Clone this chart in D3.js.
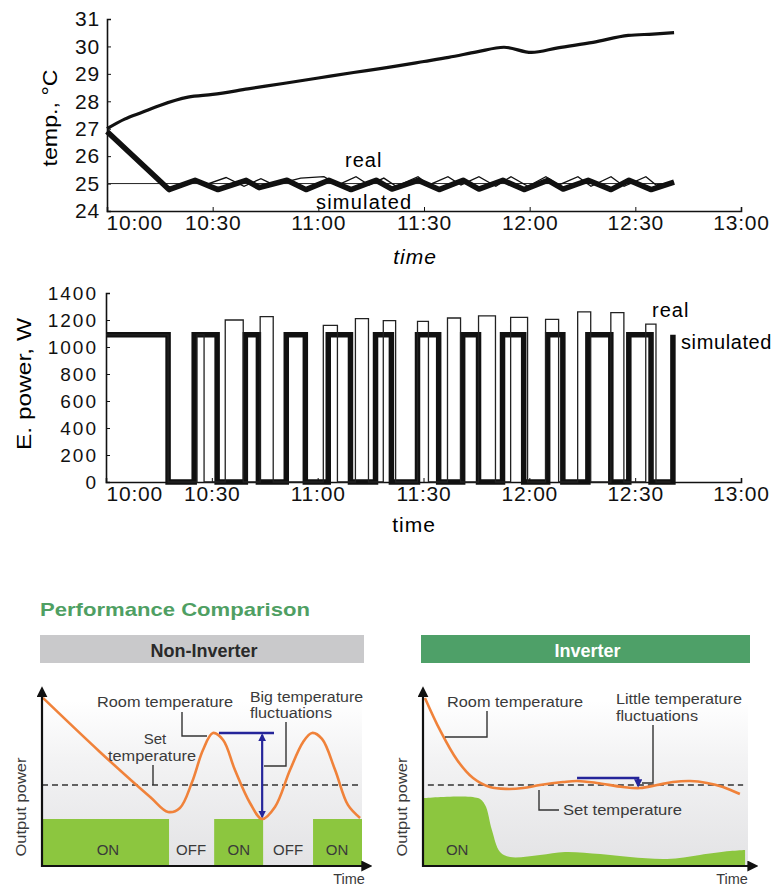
<!DOCTYPE html>
<html>
<head>
<meta charset="utf-8">
<script src="https://cdn.jsdelivr.net/npm/d3@7"></script>
<style>
  body { margin: 0; background: #fff; }
  svg { display: block; font-family: "Liberation Sans", Arial, sans-serif; }
  .axis path, .axis line { stroke: #111; }
  .axis text { fill: #111; }
</style>
</head>
<body>
<script>
const W = 781, H = 888;

// ---- data: measured charts ----
const timeTicks = [0, 30, 60, 90, 120, 150, 180];
const timeLabels = ["10:00", "10:30", "11:00", "11:30", "12:00", "12:30", "13:00"];
const tempTicks = [24, 25, 26, 27, 28, 29, 30, 31];
const powerTicks = [0, 200, 400, 600, 800, 1000, 1200, 1400];
const setPoint = 25;

// [minutes after 10:00, temp C]
const tempNoControl = [[0, 27.0], [5, 27.35], [10, 27.6], [15, 27.85], [23, 28.15], [30, 28.25],
  [40, 28.45], [50, 28.65], [60, 28.85], [70, 29.05], [78, 29.2], [90, 29.45], [97, 29.6],
  [105, 29.8], [112.7, 29.97], [120.5, 29.78], [128, 29.95], [138, 30.15], [148, 30.4],
  [155, 30.45], [161, 30.5]];
const tempSimulated = [[0, 26.9], [17.6, 24.78], [25, 25.12], [31.5, 24.78], [39.5, 25.12],
  [43.2, 24.85], [51.1, 25.12], [56.5, 24.78], [63, 25.12], [69.3, 24.78], [76.4, 25.12],
  [80.9, 24.8], [88.3, 25.12], [94.3, 24.78], [101.1, 25.12], [105.6, 24.8], [112.4, 25.12],
  [118.4, 24.78], [125.2, 25.12], [129.5, 24.8], [136.6, 25.12], [143.1, 24.78], [148.2, 25.12],
  [154.5, 24.78], [161, 25.05]];
const tempReal = [[0, 26.9], [17.6, 24.85], [25.8, 25.1], [27.8, 24.95], [33.8, 25.22],
  [38.9, 24.9], [43.7, 25.18], [47.4, 24.95], [55, 25.2], [61.6, 25.25], [65.6, 24.95],
  [70.7, 25.25], [74.4, 24.95], [78.6, 25.2], [82.1, 24.9], [88.3, 25.25], [91.4, 24.95],
  [96.8, 25.25], [100.5, 24.95], [105.6, 25.25], [110.4, 24.9], [114.7, 25.25], [119.5, 24.9],
  [124.6, 25.25], [128.3, 24.95], [133.7, 25.25], [137.4, 24.9], [143.1, 25.25], [146.8, 24.9],
  [153, 25.25], [155.9, 24.95], [161, 25.05]];

// [on, off] minutes, simulated compressor power level
const simPulses = [[0, 17.6], [25, 31.5], [39.5, 43.2], [51.1, 56.5], [63, 69.3], [76.4, 80.9],
  [88.3, 94.3], [101.1, 105.6], [112.4, 118.4], [125.2, 129.5], [136.6, 143.1], [148.2, 154.5]];
const simLevel = 1090;
const simLastRise = 160.7;
// [on, off, W] measured
const realPulses = [[0, 17.6, 1090], [25.8, 27.8, 1090], [33.8, 38.9, 1200], [43.7, 47.4, 1225],
  [61.6, 65.6, 1160], [70.7, 74.4, 1210], [78.6, 82.1, 1195], [88.3, 91.4, 1190],
  [96.8, 100.5, 1215], [105.6, 110.4, 1230], [114.7, 119.5, 1220], [124.6, 128.3, 1205],
  [133.7, 137.4, 1260], [143.1, 146.8, 1255], [153, 155.9, 1170]];
const realEnd = 160;

// ---- data: comparison diagram (time 0-100, level 0-100) ----
const nonInvRoom = [[0.3, 95.5], [18.1, 64.8], [33.8, 39.2], [39.4, 30.7], [43.1, 33.0],
  [46.9, 47.7], [50.3, 65.9], [53.4, 75.6], [56.6, 71.6], [60.3, 54.5], [65.0, 35.8],
  [68.8, 26.7], [72.8, 33.5], [77.5, 54.5], [81.6, 70.5], [84.4, 75.6], [87.5, 72.2],
  [91.6, 54.5], [95.6, 34.7], [99.4, 27.3]];
const nonInvOn = [[0, 39.7], [53.8, 69.1], [84.7, 100]];
const nonInvOnLevel = 26.7;
const nonInvStates = [["ON", 20.6], ["OFF", 46.6], ["ON", 61.5], ["OFF", 76.9], ["ON", 92.2]];
const invRoom = [[0.6, 95.5], [5.2, 77.3], [10.5, 60.2], [15.4, 50.0], [20.6, 44.9], [25.8, 43.8],
  [30.8, 44.3], [36.0, 46.0], [43.1, 47.7], [47.4, 48.3], [53.5, 47.2], [61.5, 44.9],
  [66.8, 44.3], [72.0, 46.0], [76.9, 47.7], [82.2, 48.3], [87.4, 47.2], [92.3, 44.9], [97.5, 40.9]];
const invPower = [[0, 38.6], [16.9, 38.6], [19.1, 34.7], [21.2, 20.5], [23.7, 8.0], [26.8, 5.1],
  [36.0, 6.3], [43.7, 8.0], [54.5, 6.8], [63.7, 5.1], [75.1, 4.0], [85.2, 6.3], [94.5, 8.5],
  [99.1, 9.1]];
const setLevel = 46;

const svg = d3.select("body").append("svg").attr("width", W).attr("height", H);
const defs = svg.append("defs");

// ================= temperature chart =================
const xT = d3.scaleLinear().domain([0, 180]).range([107, 741]);
const yT = d3.scaleLinear().domain([24, 31]).range([211, 19]);
const lineT = d3.line().x((d) => xT(d[0])).y((d) => yT(d[1]));

const gTy = svg.append("g").attr("class", "axis").attr("transform", `translate(${xT(0)},0)`)
  .call(d3.axisLeft(yT).tickValues(tempTicks).tickSize(-4).tickPadding(7).tickFormat(d3.format("d")));
const gTx = svg.append("g").attr("class", "axis").attr("transform", `translate(0,${yT(24)})`)
  .call(d3.axisBottom(xT).tickValues(timeTicks).tickSize(-4).tickPadding(4)
    .tickFormat((d, i) => timeLabels[i]));
[gTy, gTx].forEach((g) => {
  g.select(".domain").attr("stroke-width", 1.6);
  g.selectAll("text").attr("font-size", 21).attr("letter-spacing", 0.8);
});
gTx.selectAll(".tick").filter((d) => d === 0).select("line").remove();
gTx.selectAll(".tick").filter((d) => d === 0).select("text").attr("text-anchor", "start").attr("x", -1);

svg.append("line")
  .attr("x1", xT(0)).attr("x2", xT(161)).attr("y1", yT(setPoint)).attr("y2", yT(setPoint))
  .attr("stroke", "#222").attr("stroke-width", 1);
svg.append("path").datum(tempNoControl).attr("d", lineT.curve(d3.curveMonotoneX))
  .attr("fill", "none").attr("stroke", "#111").attr("stroke-width", 3.2);
lineT.curve(d3.curveLinear);
svg.append("path").datum(tempSimulated).attr("d", lineT)
  .attr("fill", "none").attr("stroke", "#111").attr("stroke-width", 5.5).attr("stroke-linejoin", "round");
svg.append("path").datum(tempReal).attr("d", lineT)
  .attr("fill", "none").attr("stroke", "#111").attr("stroke-width", 1.3);

svg.append("text").attr("x", 345).attr("y", 167).attr("font-size", 20).attr("letter-spacing", 1).text("real");
svg.append("text").attr("x", 316).attr("y", 209).attr("font-size", 20).attr("letter-spacing", 1.2).text("simulated");
svg.append("text").attr("x", 415).attr("y", 264).attr("text-anchor", "middle")
  .attr("font-size", 21).attr("font-style", "italic").attr("letter-spacing", 1).text("time");
svg.append("text").attr("transform", "translate(57,118) rotate(-90)").attr("text-anchor", "middle")
  .attr("font-size", 21).attr("textLength", 97).attr("lengthAdjust", "spacingAndGlyphs").text("temp., °C");

// ================= power chart =================
const xP = d3.scaleLinear().domain([0, 180]).range([106, 741]);
const yP = d3.scaleLinear().domain([0, 1400]).range([482, 293]);
const lineP = d3.line().x((d) => xP(d[0])).y((d) => yP(d[1]));

const gPy = svg.append("g").attr("class", "axis").attr("transform", `translate(${xP(0)},0)`)
  .call(d3.axisLeft(yP).tickValues(powerTicks).tickSize(-4).tickPadding(8).tickFormat(d3.format("d")));
const gPx = svg.append("g").attr("class", "axis").attr("transform", `translate(0,${yP(0)})`)
  .call(d3.axisBottom(xP).tickValues(timeTicks).tickSize(-4).tickPadding(4)
    .tickFormat((d, i) => timeLabels[i]));
gPy.select(".domain").attr("stroke-width", 1.6);
gPx.select(".domain").attr("stroke-width", 1.6);
gPy.selectAll("text").attr("font-size", 19).attr("letter-spacing", 2);
gPx.selectAll("text").attr("font-size", 21).attr("letter-spacing", 0.8);
gPx.selectAll(".tick").filter((d) => d === 0).select("line").remove();
gPx.selectAll(".tick").filter((d) => d === 0).select("text").attr("text-anchor", "start").attr("x", 0);

const realPts = [];
realPulses.forEach(([s, e, l]) => {
  if (s > 0) realPts.push([s, 0]);
  realPts.push([s, l], [e, l], [e, 0]);
});
realPts.push([realEnd, 0]);
const simPts = [];
simPulses.forEach(([s, e]) => {
  if (s > 0) simPts.push([s, 0]);
  simPts.push([s, simLevel], [e, simLevel], [e, 0]);
});
simPts.push([simLastRise, 0], [simLastRise, simLevel]);

svg.append("path").datum(simPts).attr("d", lineP)
  .attr("fill", "none").attr("stroke", "#111").attr("stroke-width", 5.5);
svg.append("path").datum(realPts).attr("d", lineP)
  .attr("fill", "none").attr("stroke", "#222").attr("stroke-width", 1.3);

svg.append("text").attr("x", 652).attr("y", 317).attr("font-size", 20).attr("letter-spacing", 1).text("real");
svg.append("text").attr("x", 681).attr("y", 349).attr("font-size", 20).attr("letter-spacing", 0.6).text("simulated");
svg.append("text").attr("x", 414).attr("y", 532).attr("text-anchor", "middle")
  .attr("font-size", 21).attr("letter-spacing", 1).text("time");
svg.append("text").attr("transform", "translate(31,384) rotate(-90)").attr("text-anchor", "middle")
  .attr("font-size", 20).attr("textLength", 132).attr("lengthAdjust", "spacingAndGlyphs").text("E. power, W");

// ================= comparison diagram =================
const green = "#8cc63f", orange = "#f0823a", navy = "#25259a", grayText = "#3a3a3a";

svg.append("text").attr("x", 40).attr("y", 616).attr("font-size", 18.5).attr("font-weight", "bold")
  .attr("fill", "#4f9f63").attr("textLength", 270).attr("lengthAdjust", "spacingAndGlyphs")
  .text("Performance Comparison");

const grad = defs.append("linearGradient").attr("id", "bg").attr("x1", 0).attr("x2", 0).attr("y1", 0).attr("y2", 1);
grad.append("stop").attr("offset", "0%").attr("stop-color", "#ffffff");
grad.append("stop").attr("offset", "35%").attr("stop-color", "#f3f3f4");
grad.append("stop").attr("offset", "100%").attr("stop-color", "#e3e3e5");

const arrow = defs.append("marker").attr("id", "axArrow").attr("viewBox", "0 0 10 10")
  .attr("refX", 5).attr("refY", 5).attr("markerWidth", 5).attr("markerHeight", 5).attr("orient", "auto");
arrow.append("path").attr("d", "M0,0L10,5L0,10Z").attr("fill", "#111");
const blueArrow = defs.append("marker").attr("id", "blueArrow").attr("viewBox", "0 0 10 10")
  .attr("refX", 8).attr("refY", 5).attr("markerWidth", 3.5).attr("markerHeight", 3.5).attr("orient", "auto-start-reverse");
blueArrow.append("path").attr("d", "M0,0L10,5L0,10Z").attr("fill", navy);

function panel(left, right, barColor, barText, barTextColor) {
  const x = d3.scaleLinear().domain([0, 100]).range([left, right]);
  const y = d3.scaleLinear().domain([0, 100]).range([866, 690]);
  const g = svg.append("g");
  g.append("rect").attr("x", left - 2).attr("y", 635).attr("width", right - left + 4).attr("height", 28)
    .attr("fill", barColor);
  g.append("text").attr("x", (left + right) / 2 + 2).attr("y", 657).attr("text-anchor", "middle")
    .attr("font-size", 18).attr("font-weight", "bold").attr("fill", barTextColor).text(barText);
  g.append("rect").attr("x", x(0)).attr("y", y(94)).attr("width", x(100) - x(0)).attr("height", y(0) - y(94))
    .attr("fill", "url(#bg)");
  return { x, y, g };
}

function axesAndTitles(p, left, tx, ty) {
  const { x, y, g } = p;
  g.append("line").attr("x1", x(0)).attr("x2", x(0)).attr("y1", y(0) + 1).attr("y2", y(99))
    .attr("stroke", "#111").attr("stroke-width", 2.2).attr("marker-end", "url(#axArrow)");
  g.append("line").attr("x1", x(0) - 1).attr("x2", x(101.5)).attr("y1", y(0)).attr("y2", y(0))
    .attr("stroke", "#111").attr("stroke-width", 2.2).attr("marker-end", "url(#axArrow)");
  g.append("text").attr("transform", `translate(${left},807) rotate(-90)`).attr("text-anchor", "middle")
    .attr("font-size", 15).attr("fill", grayText).attr("textLength", 99).attr("lengthAdjust", "spacingAndGlyphs")
    .text("Output power");
  g.append("text").attr("x", tx).attr("y", ty).attr("text-anchor", "middle")
    .attr("font-size", 14.5).attr("fill", grayText).text("Time");
}

function label(g, x, y, txt, len) {
  g.append("text").attr("x", x).attr("y", y).attr("font-size", 15.5).attr("fill", grayText)
    .attr("textLength", len).attr("lengthAdjust", "spacingAndGlyphs").text(txt);
}
function leader(g, pts) {
  g.append("path").attr("d", d3.line()(pts)).attr("fill", "none").attr("stroke", "#333").attr("stroke-width", 1.4);
}

const curve = d3.curveCatmullRom.alpha(0.5);

// ---- non-inverter ----
const L = panel(42, 362, "#c9c9cb", "Non-Inverter", "#2a2a2a");
nonInvOn.forEach(([s, e]) => {
  L.g.append("rect").attr("x", L.x(s)).attr("y", L.y(nonInvOnLevel))
    .attr("width", L.x(e) - L.x(s)).attr("height", L.y(0) - L.y(nonInvOnLevel)).attr("fill", green);
});
nonInvStates.forEach(([t, c]) => {
  L.g.append("text").attr("x", L.x(c)).attr("y", 855).attr("text-anchor", "middle")
    .attr("font-size", 15).attr("fill", grayText).text(t);
});
L.g.append("line").attr("x1", L.x(0)).attr("x2", L.x(99)).attr("y1", L.y(setLevel)).attr("y2", L.y(setLevel))
  .attr("stroke", "#333").attr("stroke-width", 1.5).attr("stroke-dasharray", "6,4");
L.g.append("path").datum(nonInvRoom)
  .attr("d", d3.line().curve(curve).x((d) => L.x(d[0])).y((d) => L.y(d[1])))
  .attr("fill", "none").attr("stroke", orange).attr("stroke-width", 2.6);
// fluctuation bracket
L.g.append("line").attr("x1", L.x(55.3)).attr("x2", L.x(72.5)).attr("y1", L.y(75.6)).attr("y2", L.y(75.6))
  .attr("stroke", navy).attr("stroke-width", 2.6);
L.g.append("line").attr("x1", L.x(68.8)).attr("x2", L.x(68.8)).attr("y1", L.y(74.5)).attr("y2", L.y(28))
  .attr("stroke", navy).attr("stroke-width", 2.2)
  .attr("marker-start", "url(#blueArrow)").attr("marker-end", "url(#blueArrow)");
label(L.g, 97, 707, "Room temperature", 136);
leader(L.g, [[182, 712], [182, 736], [207, 736]]);
L.g.append("text").attr("x", 155).attr("y", 744).attr("text-anchor", "middle").attr("font-size", 15)
  .attr("fill", grayText).text("Set");
L.g.append("text").attr("x", 152).attr("y", 761).attr("text-anchor", "middle").attr("font-size", 15)
  .attr("fill", grayText).attr("textLength", 88).attr("lengthAdjust", "spacingAndGlyphs").text("temperature");
leader(L.g, [[153, 765], [153, L.y(setLevel)]]);
label(L.g, 250, 702, "Big temperature", 113);
label(L.g, 250, 718, "fluctuations", 82);
leader(L.g, [[286, 722], [286, 766], [264, 766]]);
axesAndTitles(L, 26, 349, 884);

// ---- inverter ----
const R = panel(423, 748, "#4ea068", "Inverter", "#ffffff");
R.g.append("path").datum(invPower)
  .attr("d", d3.area().curve(curve).x((d) => R.x(d[0])).y0(R.y(0)).y1((d) => R.y(d[1])))
  .attr("fill", green);
R.g.append("text").attr("x", R.x(10.5)).attr("y", 855).attr("text-anchor", "middle")
  .attr("font-size", 15).attr("fill", grayText).text("ON");
R.g.append("line").attr("x1", R.x(1.5)).attr("x2", R.x(98.5)).attr("y1", R.y(setLevel)).attr("y2", R.y(setLevel))
  .attr("stroke", "#333").attr("stroke-width", 1.5).attr("stroke-dasharray", "6,4");
R.g.append("path").datum(invRoom)
  .attr("d", d3.line().curve(curve).x((d) => R.x(d[0])).y((d) => R.y(d[1])))
  .attr("fill", "none").attr("stroke", orange).attr("stroke-width", 2.6);
R.g.append("path")
  .attr("d", d3.line()([[R.x(47.4), R.y(50)], [R.x(66.2), R.y(50)], [R.x(66.2), R.y(45.5)]]))
  .attr("fill", "none").attr("stroke", navy).attr("stroke-width", 2.4).attr("marker-end", "url(#blueArrow)");
label(R.g, 447, 707, "Room temperature", 136);
leader(R.g, [[487, 711], [487, 737], [445, 737]]);
label(R.g, 616, 704, "Little temperature", 126);
label(R.g, 616, 721, "fluctuations", 82);
leader(R.g, [[653, 725], [653, 783], [642, 783]]);
label(R.g, 563, 815, "Set temperature", 119);
leader(R.g, [[539, 790], [539, 810], [559, 810]]);
axesAndTitles(R, 407, 732, 884);
</script>
</body>
</html>
